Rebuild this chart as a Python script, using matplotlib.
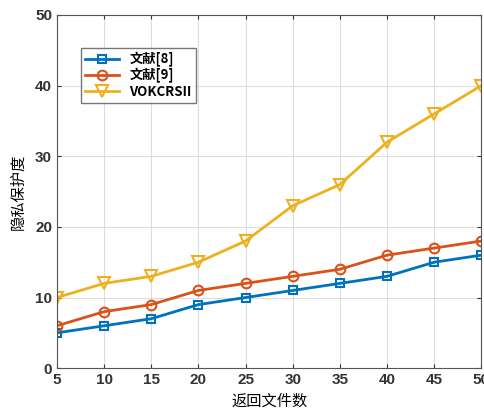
import matplotlib
matplotlib.use('Agg')
from matplotlib import pyplot as plt

plt.rcParams['font.family'] = ['Noto Sans CJK SC', 'DejaVu Sans']

x = [5, 10, 15, 20, 25, 30, 35, 40, 45, 50]
lit8 = [5, 6, 7, 9, 10, 11, 12, 13, 15, 16]
lit9 = [6, 8, 9, 11, 12, 13, 14, 16, 17, 18]
vok = [10, 12, 13, 15, 18, 23, 26, 32, 36, 40]
labels = ['文献[8]', '文献[9]', 'VOKCRSII']

fig = plt.figure(figsize=(4.85, 4.16), dpi=100)
ax = fig.add_axes([0.1175, 0.115, 0.875, 0.849])

ax.plot(x, lit8, color='#0072BD', marker='s', markersize=6, markerfacecolor='none',
        markeredgewidth=1.5, linewidth=2, label=labels[0])
ax.plot(x, lit9, color='#D95319', marker='o', markersize=7, markerfacecolor='none',
        markeredgewidth=1.5, linewidth=2, label=labels[1])
ax.plot(x, vok, color='#EDB120', marker='v', markersize=9, markerfacecolor='none',
        markeredgewidth=1.5, linewidth=2, label=labels[2])

ax.set_xlim(5, 50)
ax.set_ylim(0, 50)
ax.set_xticks(x)
ax.set_yticks([0, 10, 20, 30, 40, 50])
ax.grid(True, color='#dddddd', linewidth=0.8)
ax.tick_params(direction='in', labelsize=11, length=3, colors='#333333',
               top=True, right=True)
for t in ax.get_xticklabels() + ax.get_yticklabels():
    t.set_fontweight('bold')
    t.set_family(['Liberation Sans', 'DejaVu Sans'])
for s in ax.spines.values():
    s.set_color('#555555')

ax.set_xlabel('返回文件数', fontsize=11)
ax.set_ylabel('隐私保护度', fontsize=11, labelpad=6)

leg = ax.legend(loc='upper left', bbox_to_anchor=(0.04, 0.925),
                frameon=True, fancybox=False, edgecolor='#555555',
                handlelength=2.6, borderpad=0.3, labelspacing=0.1,
                prop={'weight': 'bold', 'size': 9.5})

fig.savefig('out.png', dpi=100)
